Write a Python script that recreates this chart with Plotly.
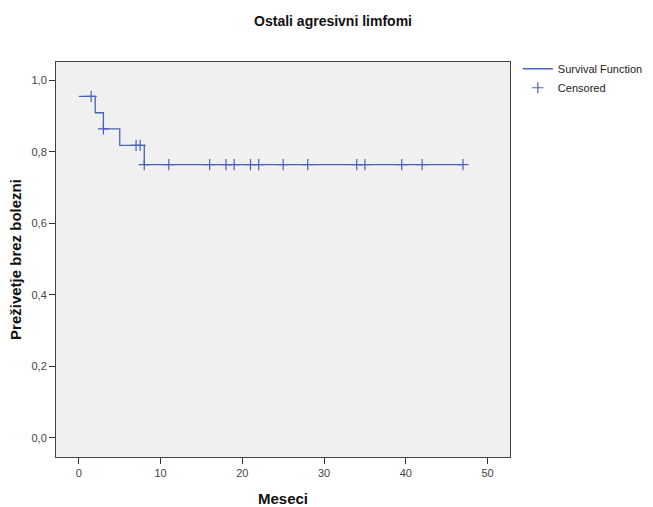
import plotly.graph_objects as go

# Step function (survival) change points
step_times = [0, 2, 3, 5, 8, 47]
step_surv = [0.955, 0.909, 0.864, 0.818, 0.764, 0.764]

# Censored observations
cens_times = [1.5, 3, 7.0, 7.5, 8, 11, 16, 18, 19, 21, 22, 25, 28, 34, 35, 39.5, 42, 47]
cens_surv = [0.955, 0.864, 0.818, 0.818, 0.764, 0.764, 0.764, 0.764, 0.764, 0.764,
             0.764, 0.764, 0.764, 0.764, 0.764, 0.764, 0.764, 0.764]

title = "Ostali agresivni limfomi"
x_title = "Meseci"
y_title = "Preživetje brez bolezni"
x_ticks = [0, 10, 20, 30, 40, 50]
y_ticks = [0.0, 0.2, 0.4, 0.6, 0.8, 1.0]

col = "#4a62b4"
font = "Liberation Sans, Arial, sans-serif"

fig = go.Figure()
fig.add_trace(go.Scatter(x=step_times, y=step_surv, mode="lines", line_shape="hv",
                         line=dict(color=col, width=1.3), name="Survival Function"))
fig.add_trace(go.Scatter(x=cens_times, y=cens_surv, mode="markers", name="Censored",
                         marker=dict(symbol="cross-thin", size=8, color=col,
                                     line=dict(color=col, width=1.2))))

fig.update_layout(
    width=653, height=507,
    margin=dict(l=56, r=143, t=62, b=50, autoexpand=False),
    paper_bgcolor="white", plot_bgcolor="#f0f0f0",
    separators=",.",
    font=dict(family=font, size=11, color="#333333"),
    title=dict(text=title, x=0.51, xanchor="center", y=0.958, yanchor="middle",
               font=dict(family=font, size=14, color="#111111", weight="bold")),
    legend=dict(xref="container", yref="container", x=0.793, y=0.893,
                xanchor="left", yanchor="top", itemwidth=30,
                font=dict(size=11, color="#222222"), bgcolor="rgba(0,0,0,0)",
                tracegroupgap=0),
    showlegend=True,
)
fig.update_xaxes(range=[-2.8, 52.75], tickvals=x_ticks, ticks="outside", ticklen=6,
                 tickcolor="#333333", showgrid=False, zeroline=False, automargin=False,
                 showline=True, linecolor="#444444", linewidth=1, mirror=True,
                 title=dict(text=x_title, font=dict(family=font, size=15, color="#111111", weight="bold"),
                            standoff=18),
                 tickfont=dict(size=11, color="#444444"))
fig.update_yaxes(range=[-0.054, 1.051], tickvals=y_ticks, tickformat=".1f", ticks="outside",
                 ticklen=6, tickcolor="#333333", showgrid=False, zeroline=False, automargin=False,
                 showline=True, linecolor="#444444", linewidth=1, mirror=True,
                 title=dict(text=y_title, font=dict(family=font, size=15, color="#111111", weight="bold"),
                            standoff=6),
                 tickfont=dict(size=11, color="#444444"))

fig.write_html("out.html")
